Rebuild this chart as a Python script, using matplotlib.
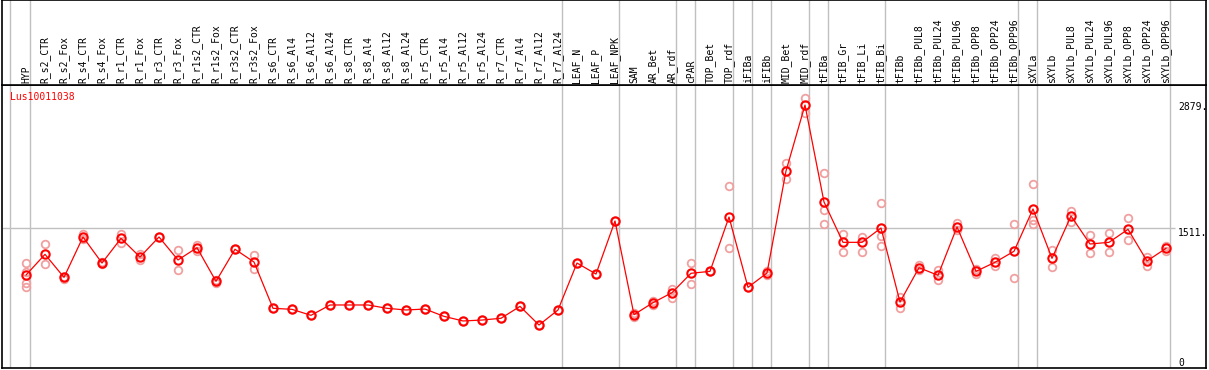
import matplotlib
matplotlib.use("Agg")
from matplotlib import pyplot as plt
import numpy as np

gene = "Lus10011038"

samples = ["HYP", "R_s2_CTR", "R_s2_Fox", "R_s4_CTR", "R_s4_Fox", "R_r1_CTR", "R_r1_Fox",
           "R_r3_CTR", "R_r3_Fox", "R_r1s2_CTR", "R_r1s2_Fox", "R_r3s2_CTR", "R_r3s2_Fox",
           "R_s6_CTR", "R_s6_Al4", "R_s6_Al12", "R_s6_Al24", "R_s8_CTR", "R_s8_Al4",
           "R_s8_Al12", "R_s8_Al24", "R_r5_CTR", "R_r5_Al4", "R_r5_Al12", "R_r5_Al24",
           "R_r7_CTR", "R_r7_Al4", "R_r7_Al12", "R_r7_Al24", "LEAF_N", "LEAF_P", "LEAF_NPK",
           "SAM", "AR_Bet", "AR_rdf", "cPAR", "TOP_Bet", "TOP_rdf", "iFIBa", "iFIBb",
           "MID_Bet", "MID_rdf", "tFIBa", "tFIB_Gr", "tFIB_Li", "tFIB_Bi", "tFIBb",
           "tFIBb_PUL8", "tFIBb_PUL24", "tFIBb_PUL96", "tFIBb_OPP8", "tFIBb_OPP24",
           "tFIBb_OPP96", "sXYLa", "sXYLb", "sXYLb_PUL8", "sXYLb_PUL24", "sXYLb_PUL96",
           "sXYLb_OPP8", "sXYLb_OPP24", "sXYLb_OPP96"]

means = [1006, 1230, 981, 1418, 1136, 1403, 1201, 1418, 1169, 1302, 938, 1285, 1147,
         646, 635, 570, 682, 682, 682, 646, 628, 638, 559, 509, 519, 538, 667, 465, 628,
         1136, 1017, 1591, 577, 707, 815, 1025, 1046, 1634, 873, 1028, 2132, 2846,
         1797, 1360, 1360, 1515, 714, 1086, 1003, 1526, 1046, 1144, 1263, 1721, 1187,
         1645, 1342, 1360, 1501, 1158, 1295]

replicates = [[1136, 1042, 923, 880], [1338, 1122], [960, 990], [1447, 1400], [1130, 1145],
              [1454, 1353], [1234, 1169], [1418], [1277, 1057], [1330, 1270], [925, 950],
              [1290], [1226, 1068], [646], [635], [570], [682], [682], [682], [646], [628],
              [638], [559], [509], [519], [538], [667], [465], [628], [1136], [1017], [1591],
              [555, 577, 595], [680, 730], [858, 758], [1136, 909], [1046, 1050],
              [1966, 1295], [873], [1005, 1050], [2219, 2045], [2919, 2763],
              [2107, 1707, 1562], [1447, 1259], [1418, 1259], [1782, 1425, 1317],
              [772, 653], [1120, 1060], [1061, 952], [1573, 1490], [1075, 1015],
              [1190, 1100], [1555, 971], [1988, 1605, 1555], [1277, 1096], [1699, 1583],
              [1439, 1241], [1457, 1252], [1620, 1382], [1205, 1107], [1320, 1270]]

# group separators (line drawn just after these sample indices)
separators = [-1, 0, 28, 31, 34, 35, 37, 38, 39, 41, 42, 45, 52, 53, 60]
ref_ticks = [2879, 1511, 0]

W, H = 1209, 370
fig = plt.figure(figsize=(W / 100, H / 100), dpi=100)
fig.patch.set_facecolor("white")

xmin, xmax = (2 - 26) / 19, (1206 - 26) / 19
ymax = (368 - 85) / 0.0924

ax = fig.add_axes([2 / W, (H - 368) / H, 1204 / W, 283 / H])
top = fig.add_axes([2 / W, (H - 85) / H, 1204 / W, 85 / H])

grey = "#c0c0c0"
x = np.arange(len(samples))
sep_x = [s + 0.21 if s >= 0 else -0.84 for s in separators]

for a in (ax, top):
    a.set_xlim(xmin, xmax)
    a.set_xticks([])
    a.set_yticks([])
    for sp in a.spines.values():
        sp.set_color("black")
        sp.set_linewidth(1.2)
    for sx in sep_x:
        a.axvline(sx, color=grey, lw=1, zorder=0)

top.set_ylim(0, 1)
for i, name in enumerate(samples):
    top.text(i, 2 / 85, name, rotation=90, ha="center", va="bottom",
             family="DejaVu Sans Mono", fontsize=7)

ax.set_ylim(0, ymax)
ax.hlines(1511, xmin, (1175 - 26) / 19, color=grey, lw=1, zorder=0)

rx = [i for i, r in enumerate(replicates) for _ in r]
ry = [v for r in replicates for v in r]
ax.plot(rx, ry, "o", ms=5.5, mfc="none", mec="#f0a0a0", mew=1.3, zorder=2)
ax.plot(x, means, "-", color="red", lw=0.9, zorder=3)
ax.plot(x, means, "o", ms=6, mfc="none", mec="red", mew=1.5, zorder=4)

ax.text((10 - 26) / 19, ymax - 12 / 0.0924, gene, color="red",
        family="DejaVu Sans Mono", fontsize=7, ha="left", va="center")

tx = (1178 - 26) / 19
for v in ref_ticks:
    label = "0" if v == 0 else f"{v}."
    ax.text(tx, v, label, family="DejaVu Sans Mono", fontsize=7, ha="left",
            va="bottom" if v == 0 else "top")

fig.savefig("out.png", dpi=100)
